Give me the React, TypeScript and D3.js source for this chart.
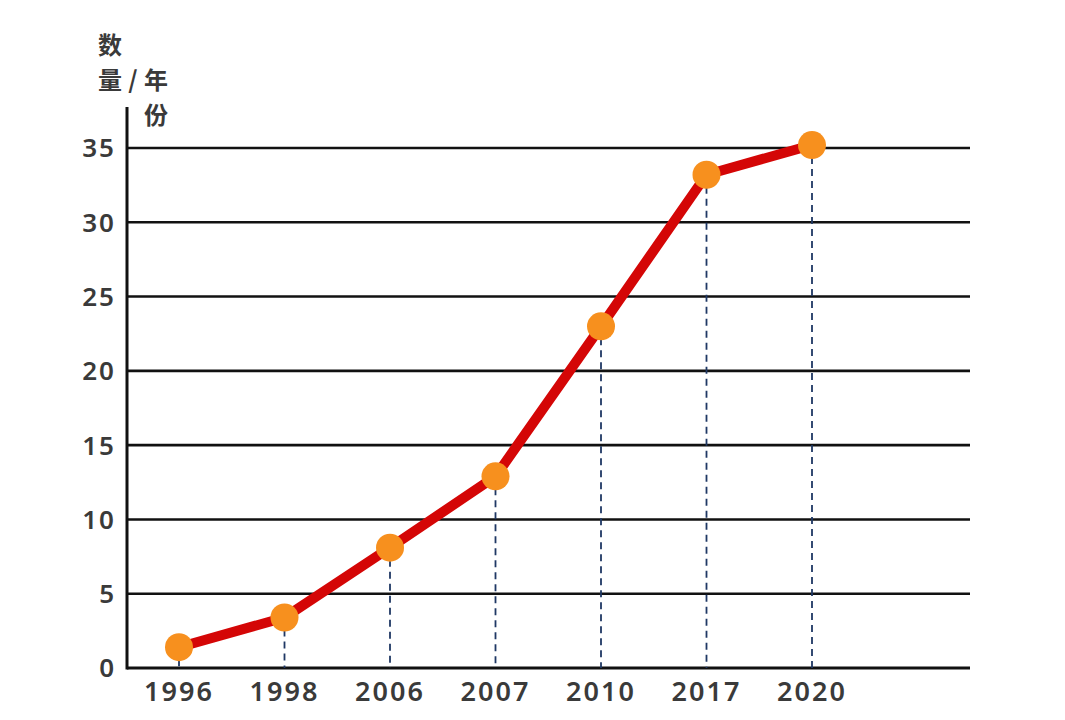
import React from "react";
import * as d3 from "d3";

const years = ["1996", "1998", "2006", "2007", "2010", "2017", "2020"];
const counts = [1.4, 3.4, 8.1, 12.9, 23.0, 33.2, 35.2];
const yTicks = [0, 5, 10, 15, 20, 25, 30, 35];

export default function App() {
  const W = 1065, H = 720;
  const left = 127, right = 970, top = 148, bottom = 668;
  const x = d3.scalePoint<string>().domain(years).range([179, 812]);
  const y = d3.scaleLinear().domain([0, 35]).range([bottom, top]);
  const pts = years.map((yr, i) => ({ yr, v: counts[i] }));
  const line = d3.line<{ yr: string; v: number }>()
    .x(d => x(d.yr)!)
    .y(d => y(d.v));
  const font = "'Noto Sans', 'Open Sans', sans-serif";
  const cjk = "'Noto Sans CJK SC', sans-serif";
  const txt = "#3a3a3a";
  return (
    <svg width={W} height={H} style={{ position: "absolute", left: 0, top: 0, background: "#fff" }}>
      {yTicks.filter(t => t > 0).map(t => (
        <line key={t} x1={left} x2={right} y1={y(t)} y2={y(t)} stroke="#111" strokeWidth={2.6} />
      ))}
      <line x1={left} x2={right} y1={bottom} y2={bottom} stroke="#111" strokeWidth={3} />
      <line x1={left} x2={left} y1={107} y2={bottom + 1.5} stroke="#111" strokeWidth={3} />
      {yTicks.map(t => (
        <text key={t} x={116} y={y(t)} dy="0.36em" textAnchor="end" fontFamily={font}
          fontSize={26} fontWeight={600} letterSpacing={2} fill={txt}>{t}</text>
      ))}
      {pts.map(p => (
        <line key={p.yr} x1={x(p.yr)} x2={x(p.yr)} y1={y(p.v)} y2={bottom} stroke="#1f3864"
          strokeWidth={1.8} strokeDasharray="7,5" />
      ))}
      {years.map(yr => (
        <text key={yr} x={x(yr)} y={701} textAnchor="middle" fontFamily={font}
          fontSize={27} fontWeight={600} letterSpacing={2} fill={txt}>{yr}</text>
      ))}
      <path d={line(pts)!} fill="none" stroke="#d40606" strokeWidth={10} strokeLinejoin="round" />
      {pts.map(p => (
        <circle key={p.yr} cx={x(p.yr)} cy={y(p.v)} r={14} fill="#f7901e" />
      ))}
      <g fontFamily={cjk} fontSize={24} fontWeight={600} fill={txt}>
        <text x={110} y={54} textAnchor="middle">数</text>
        <text x={110} y={89} textAnchor="middle">量</text>
        <text x={133} y={89} textAnchor="middle">/</text>
        <text x={156} y={89} textAnchor="middle">年</text>
        <text x={156} y={124} textAnchor="middle">份</text>
      </g>
    </svg>
  );
}
